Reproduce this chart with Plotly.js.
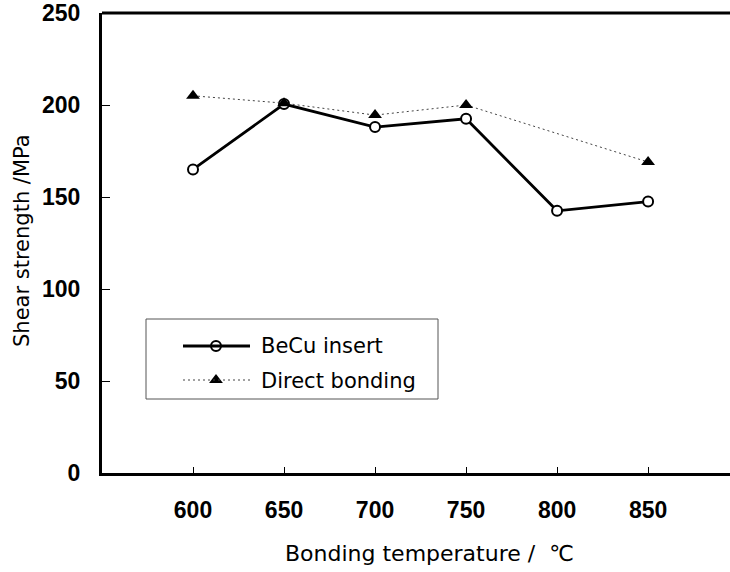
<!DOCTYPE html>
<html>
<head>
<meta charset="utf-8">
<script src="https://cdn.plot.ly/plotly-3.0.1.min.js"></script>
<style>html,body{margin:0;padding:0;background:#fff;}#chart{width:730px;height:572px;}</style>
</head>
<body>
<div id="chart"></div>
<script>
// Data
var temperatures = [600, 650, 700, 750, 800, 850];
var becuInsert = [165, 200.5, 188, 192.5, 142.5, 147.5];
var directBonding = [205, 201, 194.5, 200, null, 169];
var seriesNames = ["BeCu insert", "Direct bonding"];
var xTicks = [600, 650, 700, 750, 800, 850];
var yTicks = [0, 50, 100, 150, 200, 250];

var L = 102, T = 13, R = 730, B = 473;
var W = 730, H = 572;
function px(x){ return (x - L) / (R - L); }
function py(y){ return (B - y) / (B - T); }

var fontTick = {family: "Liberation Sans, Arial, sans-serif", size: 23, color: "#000", weight: "bold"};
var fontTitle = {family: "DejaVu Sans, sans-serif", size: 21, color: "#000"};
var fontLegend = {family: "DejaVu Sans, sans-serif", size: 21, color: "#000"};

var traces = [
  {
    x: temperatures, y: becuInsert, type: "scatter", mode: "lines+markers",
    name: seriesNames[0], showlegend: false,
    line: {color: "#000", width: 2.8},
    marker: {symbol: "circle", size: 10, color: "#fff", line: {color: "#000", width: 2}}
  },
  {
    x: temperatures, y: directBonding, type: "scatter", mode: "lines+markers",
    name: seriesNames[1], showlegend: false, connectgaps: true,
    line: {color: "#444", width: 1, dash: "2px,3px"},
    marker: {symbol: "triangle-up", size: 12, color: "#000", line: {color: "#000", width: 0}}
  },
  // legend sample markers (on a hidden 0..1 overlay axis)
  {
    x: [px(216)], y: [py(346)], xaxis: "x2", yaxis: "y2", type: "scatter", mode: "markers",
    showlegend: false, hoverinfo: "skip",
    marker: {symbol: "circle", size: 10, color: "#fff", line: {color: "#000", width: 2}}
  },
  {
    x: [px(216)], y: [py(380)], xaxis: "x2", yaxis: "y2", type: "scatter", mode: "markers",
    showlegend: false, hoverinfo: "skip",
    marker: {symbol: "triangle-up", size: 12, color: "#000"}
  }
];

var layout = {
  width: W, height: H,
  margin: {l: L, r: W - R, t: T, b: H - B, pad: 0},
  paper_bgcolor: "#fff", plot_bgcolor: "#fff",
  showlegend: false,
  xaxis: {
    range: [550, 895], tickvals: xTicks, ticktext: xTicks.map(String),
    showgrid: false, zeroline: false,
    showline: true, linecolor: "#000", linewidth: 3,
    ticks: "inside", ticklen: 6, tickwidth: 1, tickcolor: "#000",
    ticklabelstandoff: 14, tickfont: fontTick, fixedrange: true
  },
  yaxis: {
    range: [0, 250], tickvals: yTicks, ticktext: yTicks.map(String),
    showgrid: false, zeroline: false,
    showline: true, linecolor: "#000", linewidth: 3,
    ticks: "inside", ticklen: 8, tickwidth: 1, tickcolor: "#000",
    ticklabelstandoff: 14, tickfont: fontTick, fixedrange: true
  },
  xaxis2: {overlaying: "x", range: [0, 1], visible: false, fixedrange: true},
  yaxis2: {overlaying: "y", range: [0, 1], visible: false, fixedrange: true},
  shapes: [
    {type: "line", xref: "paper", yref: "paper", x0: 0, x1: 1, y0: 1, y1: 1,
     line: {color: "#000", width: 3}},
    {type: "rect", xref: "paper", yref: "paper", x0: px(146), x1: px(438), y0: py(399), y1: py(319),
     line: {color: "#555", width: 1}, fillcolor: "rgba(0,0,0,0)"},
    {type: "line", xref: "paper", yref: "paper", x0: px(183), x1: px(250), y0: py(346), y1: py(346),
     line: {color: "#000", width: 2.8}},
    {type: "line", xref: "paper", yref: "paper", x0: px(183), x1: px(250), y0: py(380), y1: py(380),
     line: {color: "#444", width: 1, dash: "2px,3px"}}
  ],
  annotations: [
    {xref: "paper", yref: "paper", x: px(259), y: py(346), xanchor: "left", yanchor: "middle",
     text: seriesNames[0], showarrow: false, font: fontLegend},
    {xref: "paper", yref: "paper", x: px(259), y: py(381), xanchor: "left", yanchor: "middle",
     text: seriesNames[1], showarrow: false, font: fontLegend},
    {xref: "paper", yref: "paper", x: px(429), y: py(553), xanchor: "center", yanchor: "middle",
     text: "Bonding temperature /  ℃", showarrow: false, font: {family: fontTitle.family, size: 22, color: "#000"}},
    {xref: "paper", yref: "paper", x: px(22), y: py(241), xanchor: "center", yanchor: "middle",
     text: "Shear strength /MPa", textangle: -90, showarrow: false, font: fontTitle}
  ]
};

Plotly.newPlot("chart", traces, layout, {displayModeBar: false, staticPlot: true});
</script>
</body>
</html>
